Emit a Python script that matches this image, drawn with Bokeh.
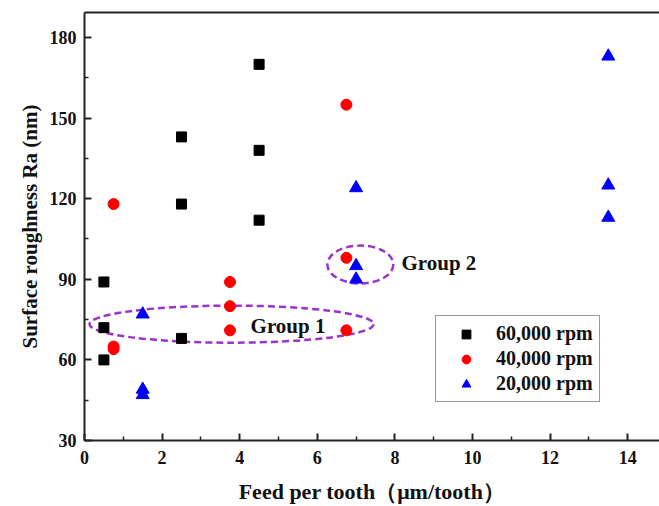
from bokeh.plotting import figure
from bokeh.models import Range1d, LinearAxis, Legend, LegendItem, FixedTicker
from bokeh.core.properties import value
from bokeh.embed import file_html
from bokeh.resources import INLINE

# Data
feed_60 = [0.5, 0.5, 0.5, 2.5, 2.5, 2.5, 4.5, 4.5, 4.5]
ra_60 = [60, 72, 89, 68, 118, 143, 112, 138, 170]
feed_40 = [0.75, 0.75, 0.75, 3.75, 3.75, 3.75, 6.75, 6.75, 6.75]
ra_40 = [64, 65, 118, 71, 80, 89, 71, 98, 155]
feed_20 = [1.5, 1.5, 1.5, 7.0, 7.0, 7.0, 13.5, 13.5, 13.5]
ra_20 = [47, 49, 77, 90, 95, 124, 113, 125, 173]

series_labels = ["60,000 rpm", "40,000 rpm", "20,000 rpm"]
x_ticks = [0, 2, 4, 6, 8, 10, 12, 14]
x_minor = [1, 3, 5, 7, 9, 11, 13]
y_ticks = [30, 60, 90, 120, 150, 180]
y_minor = [45, 75, 105, 135, 165]

group_names = ["Group 1", "Group 2"]
group_cx = [3.79, 7.11]
group_cy = [73.3, 95.5]
group_w = [7.32, 1.70]
group_h = [13.8, 14.1]
group_text_x = [4.28, 8.17]
group_text_y = [72.8, 96.0]

FONT = "Liberation Serif"

p = figure(width=659, height=506, output_backend="svg", toolbar_location=None,
           x_range=Range1d(0, 14.82), y_range=Range1d(30, 189.3),
           min_border_left=84, min_border_right=0, min_border_top=12,
           min_border_bottom=66)
p.outline_line_color = None
p.grid.visible = False
p.background_fill_color = "white"
p.border_fill_color = "white"

bx = p.below[0]
ly = p.left[0]

for ax in (bx, ly):
    ax.axis_line_width = 2
    ax.axis_line_color = "#222222"
    ax.major_tick_line_width = 2
    ax.minor_tick_line_width = 1.5
    ax.major_tick_line_color = "#222222"
    ax.minor_tick_line_color = "#222222"
    ax.major_tick_in = 7
    ax.major_tick_out = 0
    ax.minor_tick_in = 4
    ax.minor_tick_out = 0
    ax.major_label_text_font = FONT
    ax.major_label_text_font_style = "bold"
    ax.major_label_text_font_size = "18px"
    ax.major_label_text_color = "#111111"
    ax.axis_label_text_font = FONT
    ax.axis_label_text_font_style = "bold"
    ax.axis_label_text_color = "#111111"

bx.axis_label_text_font_size = "22px"
ly.axis_label_text_font_size = "21px"
bx.ticker = FixedTicker(ticks=x_ticks, minor_ticks=x_minor)
ly.ticker = FixedTicker(ticks=y_ticks, minor_ticks=y_minor)
bx.major_label_standoff = 10
ly.major_label_standoff = 8
bx.axis_label = "Feed per tooth\uff08\u03bcm/tooth\uff09"
ly.axis_label = "Surface roughness Ra (nm)"
bx.axis_label_standoff = 12
ly.axis_label_standoff = 5

# top frame line
top_ax = LinearAxis(ticker=FixedTicker(ticks=[], minor_ticks=[]),
                    major_tick_line_color=None, minor_tick_line_color=None,
                    major_label_standoff=0,
                    axis_line_width=2, axis_line_color="#222222",
                    major_tick_out=0, major_tick_in=0,
                    minor_tick_out=0, minor_tick_in=0)
p.add_layout(top_ax, "above")

# group ellipses
p.ellipse(x=group_cx, y=group_cy, width=group_w, height=group_h,
          fill_color=None, line_color="#9933CC", line_width=2.5,
          line_dash="7 4")
p.text(x=group_text_x, y=group_text_y, text=group_names,
       text_font=value(FONT), text_font_style="bold", text_font_size="21px",
       text_color="#111111", text_baseline="middle", text_align="left")

r60 = p.scatter(feed_60, ra_60, marker="square", size=10, color="black")
r40 = p.scatter(feed_40, ra_40, marker="circle", size=11, color="#FF0000")
r20 = p.scatter(feed_20, ra_20, marker="triangle", size=13, color="#0000FF")

legend = Legend(items=[LegendItem(label=series_labels[0], renderers=[r60]),
                       LegendItem(label=series_labels[1], renderers=[r40]),
                       LegendItem(label=series_labels[2], renderers=[r20])],
                location=(351, 38))
legend.label_text_font = FONT
legend.label_text_font_style = "bold"
legend.label_text_font_size = "20px"
legend.label_text_color = "#111111"
legend.border_line_color = "#333333"
legend.border_line_width = 1
legend.spacing = 2
legend.padding = 6
legend.label_standoff = 6
legend.glyph_width = 48
legend.glyph_height = 22
legend.label_height = 22
legend.margin = 0
legend.background_fill_alpha = 1
p.add_layout(legend, "center")

open("out.html", "w").write(file_html(p, INLINE))
